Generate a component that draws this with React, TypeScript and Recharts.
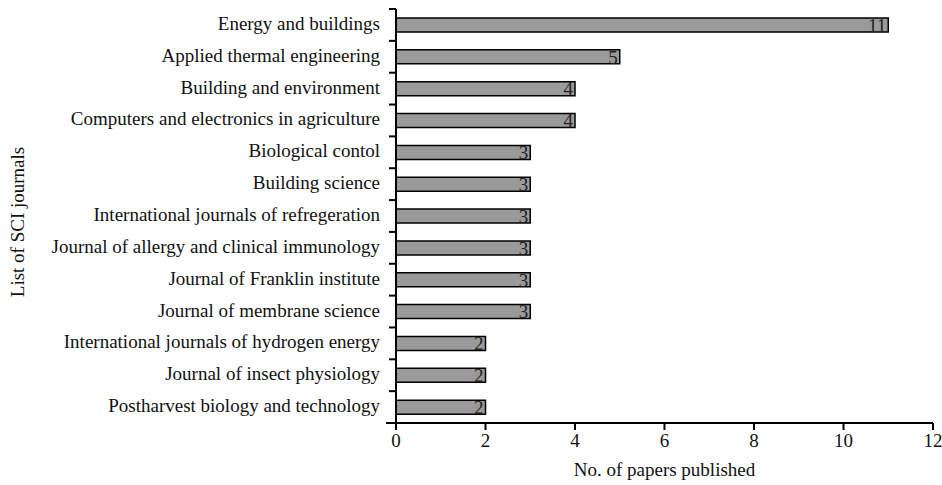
import React from "react";
import { BarChart, Bar, XAxis, YAxis, LabelList } from "recharts";

const journals = [
  "Energy and buildings",
  "Applied thermal engineering",
  "Building and environment",
  "Computers and electronics in agriculture",
  "Biological contol",
  "Building science",
  "International journals of refregeration",
  "Journal of allergy and clinical immunology",
  "Journal of Franklin institute",
  "Journal of membrane science",
  "International journals of hydrogen energy",
  "Journal of insect physiology",
  "Postharvest biology and technology",
];
const papers = [11, 5, 4, 4, 3, 3, 3, 3, 3, 3, 2, 2, 2];
const xTicks = [0, 2, 4, 6, 8, 10, 12];

const data = journals.map((name, i) => ({ name, papers: papers[i] }));

const W = 942;
const H = 485;
const SVG_W = 970; // wider than the page so the "12" label is not cut by the svg edge
const M = { top: 9, right: 9 + (SVG_W - W), left: 0, bottom: 0 };
const Y_W = 396;
const X_H = 62;
const FONT = "'Liberation Serif', 'Times New Roman', Times, serif";
const txt = { fontFamily: FONT };
const FS = 19;
const band = (H - M.top - M.bottom - X_H) / journals.length;

// category label + small tick on the band boundary above it
function JournalTick(props: any) {
  const { y, payload, index } = props;
  const top = y - band / 2;
  return (
    <g>
      <text x={Y_W - 16} y={y} dy={5} textAnchor="end" fontSize={FS} style={txt} fill="#111">
        {payload.value}
      </text>
      <line x1={Y_W - 7} x2={Y_W} y1={top} y2={top} stroke="#000" strokeWidth={2} />
      {index === journals.length - 1 && (
        <line x1={Y_W - 10} x2={Y_W} y1={y + band / 2} y2={y + band / 2} stroke="#000" strokeWidth={2} />
      )}
    </g>
  );
}

function XTick(props: any) {
  const { x, y, payload } = props;
  return (
    <text x={x} y={y} dy={14} textAnchor="middle" fontSize={FS} style={txt} fill="#111">
      {payload.value}
    </text>
  );
}

function YTitle(props: any) {
  const cy = props.viewBox ? props.viewBox.y + props.viewBox.height / 2 : 216;
  return (
    <text x={0} y={0} transform={`translate(24, ${cy + 6}) rotate(-90)`} textAnchor="middle" fontSize={FS} style={txt} fill="#111">
      List of SCI journals
    </text>
  );
}

function XTitle(props: any) {
  const vb = props.viewBox || { x: 396, width: 537, y: 423 };
  return (
    <text x={vb.x + vb.width / 2} y={476} textAnchor="middle" fontSize={FS} style={txt} fill="#111">
      No. of papers published
    </text>
  );
}

export default function App() {
  return (
    <div style={{ position: "absolute", left: 0, top: 0, width: W, height: H, overflow: "hidden", background: "#fff" }}>
      <BarChart width={SVG_W} height={H} data={data} layout="vertical" margin={M}>
        <XAxis
          type="number"
          domain={[0, 12]}
          ticks={xTicks}
          interval={0}
          height={X_H}
          axisLine={{ stroke: "#000", strokeWidth: 2 }}
          tickLine={{ stroke: "#000", strokeWidth: 2 }}
          tickSize={7}
          tickMargin={3}
          tick={<XTick />}
          label={<XTitle />}
        />
        <YAxis
          type="category"
          dataKey="name"
          width={Y_W}
          interval={0}
          axisLine={{ stroke: "#000", strokeWidth: 2 }}
          tickLine={false}
          tick={<JournalTick />}
          label={<YTitle />}
        />
        <Bar dataKey="papers" barSize={14} fill="#9a9a9a" stroke="#000" strokeWidth={1.5} isAnimationActive={false}>
          <LabelList dataKey="papers" position="insideRight" offset={2} fontSize={FS} style={txt} fill="#222" />
        </Bar>
      </BarChart>
    </div>
  );
}
